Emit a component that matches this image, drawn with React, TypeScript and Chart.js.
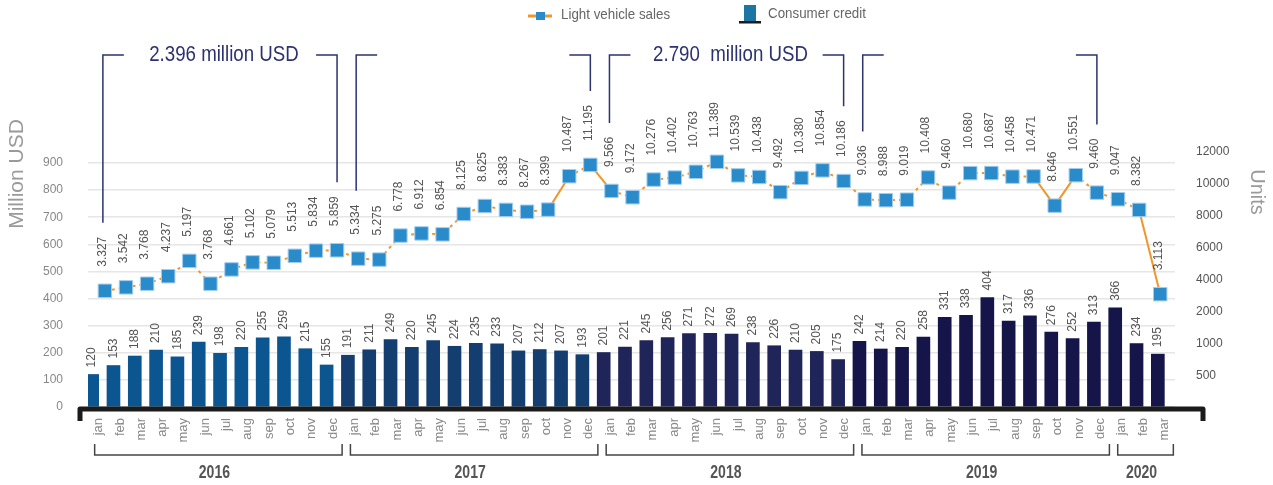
import React, { useEffect, useRef } from 'react';
import { Chart, registerables } from 'chart.js';

Chart.register(...registerables);

// ---------------- data ----------------
const MONTHS = ['jan', 'feb', 'mar', 'apr', 'may', 'jun', 'jul', 'aug', 'sep', 'oct', 'nov', 'dec'];
const YEARS = ['2016', '2017', '2018', '2019', '2020'];
const MONTHS_PER_YEAR = [12, 12, 12, 12, 3];

// Consumer credit (million USD)
const CONSUMER_CREDIT = [
  120, 153, 188, 210, 185, 239, 198, 220, 255, 259, 215, 155,
  191, 211, 249, 220, 245, 224, 235, 233, 207, 212, 207, 193,
  201, 221, 245, 256, 271, 272, 269, 238, 226, 210, 205, 175,
  242, 214, 220, 258, 331, 338, 404, 317, 336, 276, 252, 313,
  366, 234, 195,
];

// Light vehicle sales (units)
const LIGHT_VEHICLE_SALES = [
  3327, 3542, 3768, 4237, 5197, 3768, 4661, 5102, 5079, 5513, 5834, 5859,
  5334, 5275, 6778, 6912, 6854, 8125, 8625, 8383, 8267, 8399, 10487, 11195,
  9566, 9172, 10276, 10402, 10763, 11389, 10539, 10438, 9492, 10380, 10854, 10186,
  9036, 8988, 9019, 10408, 9460, 10680, 10687, 10458, 10471, 8646, 10551, 9460,
  9047, 8382, 3113,
];

const LEFT_TICKS = [0, 100, 200, 300, 400, 500, 600, 700, 800, 900];
const RIGHT_TICK_VALUES = [-2000, 0, 2000, 4000, 6000, 8000, 10000, 12000];
const RIGHT_TICK_LABELS = ['500', '1000', '2000', '4000', '6000', '8000', '10000', '12000'];

const NOTE_FROM = [0, 12, 24, 36];
const NOTE_TO = [11, 23, 35, 47];
const NOTE_TEXT = ['2.396 million USD', '', '2.790  million USD', ''];

const YEAR_COLORS = ['#0b5591', '#133e6f', '#1f2558', '#15154a', '#15154a'];

// ---------------- layout ----------------
const W = 1273;
const H = 485;
const TOP = 40;
const BOTTOM = 407;
const LEFT = 88;
const RIGHT = 1175;
const LEFT_MAX = (900 * (BOTTOM - TOP)) / (BOTTOM - 163);
const R_ZERO_Y = 344;
const R_PX = 0.016;
const RIGHT_MIN = -(BOTTOM - R_ZERO_Y) / R_PX;
const RIGHT_MAX = (R_ZERO_Y - TOP) / R_PX;

const FONT = '"Liberation Sans", Arial, sans-serif';

const CATEGORY_LABELS: string[] = [];
const BAR_COLORS: string[] = [];
YEARS.forEach((_, k) => {
  for (let m = 0; m < MONTHS_PER_YEAR[k]; m++) {
    CATEGORY_LABELS.push(MONTHS[m]);
    BAR_COLORS.push(YEAR_COLORS[k]);
  }
});

const fmtUnits = (v: number) => {
  const th = Math.floor(v / 1000);
  const rest = String(v % 1000).padStart(3, '0');
  return `${th}.${rest}`;
};

const drawRot = (ctx: CanvasRenderingContext2D, text: string, x: number, y: number) => {
  ctx.save();
  ctx.translate(x, y);
  ctx.rotate(-Math.PI / 2);
  ctx.textAlign = 'left';
  ctx.textBaseline = 'middle';
  ctx.fillText(text, 0, 0);
  ctx.restore();
};

const drawSquished = (
  ctx: CanvasRenderingContext2D,
  text: string,
  x: number,
  y: number,
  sx: number,
  align: CanvasTextAlign,
) => {
  ctx.save();
  ctx.translate(x, y);
  ctx.scale(sx, 1);
  ctx.textAlign = align;
  ctx.textBaseline = 'middle';
  ctx.fillText(text, 0, 0);
  ctx.restore();
};

const LINE_LABEL_GAP = 24;
const BAR_LABEL_GAP = 7;

const decorPlugin = {
  id: 'decor',
  afterDatasetsDraw(chart: any) {
    const ctx: CanvasRenderingContext2D = chart.ctx;
    const area = chart.chartArea;
    // thick black axis
    ctx.save();
    ctx.strokeStyle = '#1b1b1b';
    ctx.lineWidth = 5;
    ctx.lineJoin = 'round';
    ctx.beginPath();
    ctx.moveTo(area.left - 8, BOTTOM + 14);
    ctx.lineTo(area.left - 8, BOTTOM + 2);
    ctx.lineTo(area.right + 28, BOTTOM + 2);
    ctx.lineTo(area.right + 28, BOTTOM + 14);
    ctx.stroke();
    ctx.restore();

    // value labels
    ctx.save();
    ctx.font = `12px ${FONT}`;
    ctx.fillStyle = '#555';
    const barMeta = chart.getDatasetMeta(0);
    barMeta.data.forEach((bar: any, i: number) => {
      drawRot(ctx, String(CONSUMER_CREDIT[i]), bar.x, bar.y - BAR_LABEL_GAP);
    });
    const lineMeta = chart.getDatasetMeta(1);
    lineMeta.data.forEach((pt: any, i: number) => {
      drawRot(ctx, fmtUnits(LIGHT_VEHICLE_SALES[i]), pt.x - 2, pt.y - LINE_LABEL_GAP);
    });
    ctx.restore();
  },
  afterDraw(chart: any) {
    const ctx: CanvasRenderingContext2D = chart.ctx;
    const xs = chart.scales.x;
    const lineMeta = chart.getDatasetMeta(1);

    // year brackets
    ctx.save();
    ctx.strokeStyle = '#444';
    ctx.lineWidth = 1.5;
    ctx.fillStyle = '#555';
    let start = 0;
    YEARS.forEach((yr, k) => {
      const n = MONTHS_PER_YEAR[k];
      const x0 = xs.getPixelForValue(start) - 4;
      const x1 = xs.getPixelForValue(start + n - 1) + 9;
      ctx.beginPath();
      ctx.moveTo(x0, 444);
      ctx.lineTo(x0, 455);
      ctx.lineTo(x1, 455);
      ctx.lineTo(x1, 444);
      ctx.stroke();
      ctx.font = `bold 18px ${FONT}`;
      drawSquished(ctx, yr, (x0 + x1) / 2 - 4, 473, 0.78, 'center');
      start += n;
    });
    ctx.restore();

    // period notes
    ctx.save();
    ctx.strokeStyle = '#2b3270';
    ctx.fillStyle = '#2b3270';
    ctx.lineWidth = 1.5;
    const labelTop = (i: number) => {
      const pt = lineMeta.data[i];
      ctx.font = `12px ${FONT}`;
      const w = ctx.measureText(fmtUnits(LIGHT_VEHICLE_SALES[i])).width;
      return pt.y - LINE_LABEL_GAP - w - 14;
    };
    NOTE_FROM.forEach((from, k) => {
      const to = NOTE_TO[k];
      const xa = lineMeta.data[from].x - 2;
      const xb = lineMeta.data[to].x;
      const top = 55;
      const ya = labelTop(from);
      const yb = labelTop(to);
      ctx.beginPath();
      ctx.moveTo(xa + 21, top);
      ctx.lineTo(xa, top);
      ctx.lineTo(xa, ya);
      ctx.moveTo(xb - 21, top);
      ctx.lineTo(xb, top);
      ctx.lineTo(xb, yb);
      ctx.stroke();
      if (NOTE_TEXT[k]) {
        ctx.font = `22px ${FONT}`;
        drawSquished(ctx, NOTE_TEXT[k], (xa + xb) / 2 + 4, 55, 0.85, 'center');
      }
    });
    ctx.restore();

    // legend
    ctx.save();
    ctx.strokeStyle = '#f0962a';
    ctx.lineWidth = 3;
    ctx.beginPath();
    ctx.moveTo(528, 16);
    ctx.lineTo(552, 16);
    ctx.stroke();
    ctx.fillStyle = '#2a8bcb';
    ctx.fillRect(536, 12, 9, 8);
    ctx.fillStyle = '#666';
    ctx.font = `15px ${FONT}`;
    drawSquished(ctx, 'Light vehicle sales', 561, 15, 0.89, 'left');
    ctx.fillStyle = '#1b76a3';
    ctx.fillRect(744, 5, 12, 16);
    ctx.fillStyle = '#1a1a1a';
    ctx.fillRect(739, 21, 22, 2.5);
    ctx.fillStyle = '#666';
    drawSquished(ctx, 'Consumer credit', 768, 14, 0.89, 'left');
    ctx.restore();

    // axis titles
    ctx.save();
    ctx.fillStyle = '#9a9a9a';
    ctx.font = `21px ${FONT}`;
    ctx.textAlign = 'center';
    ctx.textBaseline = 'middle';
    ctx.translate(17, 174);
    ctx.rotate(-Math.PI / 2);
    ctx.fillText('Million USD', 0, 0);
    ctx.restore();
    ctx.save();
    ctx.fillStyle = '#9a9a9a';
    ctx.font = `20px ${FONT}`;
    ctx.textAlign = 'center';
    ctx.textBaseline = 'middle';
    ctx.translate(1257, 192);
    ctx.rotate(Math.PI / 2);
    ctx.fillText('Units', 0, 0);
    ctx.restore();
  },
};

export default function App() {
  const ref = useRef<HTMLCanvasElement | null>(null);

  useEffect(() => {
    if (!ref.current) return;
    Chart.defaults.font.family = FONT;
    const chart = new Chart(ref.current, {
      type: 'bar',
      data: {
        labels: CATEGORY_LABELS,
        datasets: [
          {
            type: 'bar',
            label: 'Consumer credit',
            data: CONSUMER_CREDIT,
            xAxisID: 'x',
            yAxisID: 'y',
            backgroundColor: BAR_COLORS,
            barThickness: 13,
            order: 1,
          } as any,
          {
            type: 'line',
            label: 'Light vehicle sales',
            data: LIGHT_VEHICLE_SALES.map((v, i) => ({ x: i, y: v })),
            xAxisID: 'x2',
            yAxisID: 'y1',
            borderColor: '#f0962a',
            borderWidth: 2,
            tension: 0,
            pointStyle: 'rect',
            pointRadius: 9.5,
            pointBackgroundColor: '#2a8bcb',
            pointBorderColor: '#a3cdee',
            pointBorderWidth: 1,
            clip: false,
            order: 0,
            segment: {
              borderDash: (c: any) => (Math.abs(c.p1.y - c.p0.y) > 25 ? [] : [3, 4]),
            },
          } as any,
        ],
      },
      options: {
        responsive: false,
        animation: false,
        devicePixelRatio: 1,
        layout: { padding: { top: TOP, left: 0, right: 0, bottom: 0 } },
        plugins: { legend: { display: false }, tooltip: { enabled: false } },
        scales: {
          x: {
            type: 'category',
            offset: true,
            grid: { display: false, drawTicks: false },
            border: { display: false },
            ticks: {
              autoSkip: false,
              maxRotation: 90,
              minRotation: 90,
              padding: 11,
              color: '#888',
              font: { size: 13 },
            },
            afterFit: (s: any) => {
              s.height = H - BOTTOM;
            },
          },
          x2: {
            type: 'linear',
            axis: 'x',
            position: 'bottom',
            display: false,
            offset: false,
            grid: { offset: false },
            bounds: 'data',
            min: -0.8,
            max: 50.7,
          },
          y: {
            position: 'left',
            min: 0,
            max: LEFT_MAX,
            afterBuildTicks: (a: any) => {
              a.ticks = LEFT_TICKS.map((v) => ({ value: v }));
            },
            grid: { color: '#e6e6e6', lineWidth: 1.5, drawTicks: false },
            border: { display: false },
            ticks: { padding: 25, color: '#888', font: { size: 12 } },
            afterFit: (s: any) => {
              s.width = LEFT;
            },
          },
          y1: {
            position: 'right',
            min: RIGHT_MIN,
            max: RIGHT_MAX,
            afterBuildTicks: (a: any) => {
              a.ticks = RIGHT_TICK_VALUES.map((v) => ({ value: v }));
            },
            grid: { display: false, drawTicks: false },
            border: { display: false },
            ticks: {
              padding: 21,
              color: '#555',
              font: { size: 12 },
              callback: (v: any) => {
                const idx = RIGHT_TICK_VALUES.indexOf(Number(v));
                return idx >= 0 ? RIGHT_TICK_LABELS[idx] : '';
              },
            },
            afterFit: (s: any) => {
              s.width = W - RIGHT;
            },
          },
        } as any,
      },
      plugins: [decorPlugin],
    });
    return () => chart.destroy();
  }, []);

  return (
    <div style={{ position: 'fixed', left: 0, top: 0, width: W, height: H, background: '#fff' }}>
      <canvas ref={ref} width={W} height={H} style={{ display: 'block' }} />
    </div>
  );
}
